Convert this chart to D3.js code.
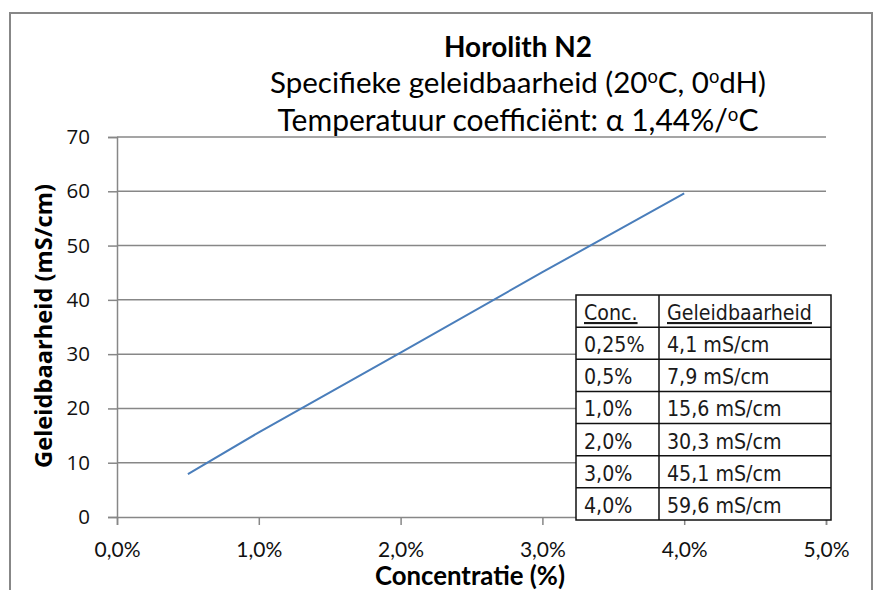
<!DOCTYPE html>
<html>
<head>
<meta charset="utf-8">
<script src="https://cdn.jsdelivr.net/npm/d3@7"></script>
<style>
  html, body { margin: 0; padding: 0; background: #fff; }
  svg { display: block; }
</style>
</head>
<body>
<svg id="chart" width="876" height="590"></svg>
<script>
// ---- data ----
const titleText = "Horolith N2";
const xTicks = [0, 1, 2, 3, 4, 5];            // percent
const yTicks = [0, 10, 20, 30, 40, 50, 60, 70];
const lineConc = [0.5, 1.0, 2.0, 3.0, 4.0];   // % plotted series
const lineVals = [7.9, 15.6, 30.3, 45.1, 59.6]; // mS/cm
const tableHeader = ["Conc.", "Geleidbaarheid"];
const tableConc = ["0,25%", "0,5%", "1,0%", "2,0%", "3,0%", "4,0%"];
const tableVals = ["4,1 mS/cm", "7,9 mS/cm", "15,6 mS/cm", "30,3 mS/cm", "45,1 mS/cm", "59,6 mS/cm"];
const xLabel = "Concentratie (%)";
const yLabel = "Geleidbaarheid (mS/cm)";

// ---- layout ----
const svg = d3.select("#chart");
const plot = { left: 117, right: 826, top: 137, bottom: 517 };
const x = d3.scaleLinear().domain([0, 5]).range([plot.left, plot.right]);
const y = d3.scaleLinear().domain([0, 70]).range([plot.bottom, plot.top]);
const gray = "#878787";

function fit(sel, w) {
  const node = sel.node();
  const fs = parseFloat(sel.attr("font-size"));
  const cur = node.getComputedTextLength();
  const nfs = fs * w / cur;
  sel.attr("font-size", nfs.toFixed(2));
  return nfs;
}

// outer chart border
svg.append("rect")
  .attr("x", 10).attr("y", 13).attr("width", 862).attr("height", 600)
  .attr("fill", "#fff").attr("stroke", gray).attr("stroke-width", 2);

// gridlines
svg.append("g").selectAll("line").data(yTicks.filter(d => d > 0)).join("line")
  .attr("x1", plot.left).attr("x2", plot.right)
  .attr("y1", d => y(d)).attr("y2", d => y(d))
  .attr("stroke", gray).attr("stroke-width", 1.5);

// y axis
const yAxis = svg.append("g").attr("transform", `translate(${plot.left},0)`)
  .call(d3.axisLeft(y).tickValues(yTicks).tickSize(9).tickPadding(18).tickFormat(d3.format("d")));
yAxis.select(".domain").attr("stroke", gray).attr("stroke-width", 1.5);
yAxis.selectAll(".tick line").attr("stroke", gray).attr("stroke-width", 1.5);
yAxis.selectAll(".tick text").attr("font-family", "'Open Sans', sans-serif")
  .attr("font-size", 20.5).attr("fill", "#111");

// x axis
const fmtPct = d => d3.format(".1f")(d).replace(".", ",") + "%";
const xAxis = svg.append("g").attr("transform", `translate(0,${plot.bottom})`)
  .call(d3.axisBottom(x).tickValues(xTicks).tickSize(8).tickPadding(17).tickFormat(fmtPct));
xAxis.select(".domain").attr("stroke", gray).attr("stroke-width", 1.5);
xAxis.selectAll(".tick line").attr("stroke", gray).attr("stroke-width", 1.5);
xAxis.selectAll(".tick text").attr("font-family", "Lato, sans-serif")
  .attr("font-size", 21).attr("fill", "#111");

// series line
const pts = lineConc.map((c, i) => [c, lineVals[i]]);
svg.append("path").datum(pts)
  .attr("fill", "none").attr("stroke", "#4A7EBB").attr("stroke-width", 2)
  .attr("d", d3.line().x(d => x(d[0])).y(d => y(d[1])));

// titles
const cx = 518;
const t1 = svg.append("text").attr("x", cx).attr("y", 57).attr("text-anchor", "middle")
  .attr("font-family", "Lato, sans-serif").attr("font-weight", "bold").attr("font-size", 26)
  .attr("fill", "#000").text(titleText);
fit(t1, 148);

const t2 = svg.append("text").attr("x", cx).attr("y", 93).attr("text-anchor", "middle")
  .attr("font-family", "Lato, sans-serif").attr("font-size", 26).attr("fill", "#000");
t2.append("tspan").text("Specifieke geleidbaarheid (20");
t2.append("tspan").attr("font-size", "0.62em").attr("dy", "-0.55em").text("o");
t2.append("tspan").attr("dy", "0.34em").text("C, 0");
t2.append("tspan").attr("font-size", "0.62em").attr("dy", "-0.55em").text("o");
t2.append("tspan").attr("dy", "0.34em").text("dH)");
fit(t2, 496);

const t3 = svg.append("text").attr("x", cx).attr("y", 131).attr("text-anchor", "middle")
  .attr("font-family", "Lato, sans-serif").attr("font-size", 26).attr("fill", "#000");
t3.append("tspan").text("Temperatuur coefficiënt: \u03B1 1,44%/");
t3.append("tspan").attr("font-size", "0.62em").attr("dy", "-0.55em").text("o");
t3.append("tspan").attr("dy", "0.34em").text("C");
fit(t3, 481);

// axis titles
const xl = svg.append("text").attr("x", 470).attr("y", 585).attr("text-anchor", "middle")
  .attr("font-family", "Lato, sans-serif").attr("font-weight", "bold").attr("font-size", 22)
  .attr("fill", "#000").text(xLabel);
fit(xl, 190);

const yl = svg.append("text").attr("transform", "translate(52,326) rotate(-90)")
  .attr("text-anchor", "middle")
  .attr("font-family", "'Open Sans', sans-serif").attr("font-weight", "bold").attr("font-size", 20)
  .attr("fill", "#000").text(yLabel);
fit(yl, 284);

// data table
const tbl = { left: 576, right: 831, top: 295, bottom: 520, col: 659 };
const nRows = tableConc.length + 1;
const rowH = (tbl.bottom - tbl.top) / nRows;
const tg = svg.append("g");
tg.append("rect").attr("x", tbl.left).attr("y", tbl.top)
  .attr("width", tbl.right - tbl.left).attr("height", tbl.bottom - tbl.top)
  .attr("fill", "#fff").attr("stroke", "#111").attr("stroke-width", 1.5);
tg.selectAll("line.row").data(d3.range(1, nRows)).join("line").attr("class", "row")
  .attr("x1", tbl.left).attr("x2", tbl.right)
  .attr("y1", d => tbl.top + d * rowH).attr("y2", d => tbl.top + d * rowH)
  .attr("stroke", "#111").attr("stroke-width", 1.5);
tg.append("line").attr("x1", tbl.col).attr("x2", tbl.col)
  .attr("y1", tbl.top).attr("y2", tbl.bottom).attr("stroke", "#111").attr("stroke-width", 1.5);

const tableFont = "'DejaVu Sans Condensed', 'DejaVu Sans', sans-serif";
const hdr = tg.selectAll("text.hdr").data(tableHeader).join("text").attr("class", "hdr")
  .attr("x", (d, i) => i === 0 ? tbl.left + 8 : tbl.col + 8)
  .attr("y", tbl.top + 25)
  .attr("font-family", tableFont).attr("font-size", 18).attr("fill", "#1a1a1a")
  .attr("text-decoration", "underline").text(d => d);
// size table text so the header "Geleidbaarheid" spans the same width as in the reference
const tfs = fit(d3.select(hdr.nodes()[1]), 145);
hdr.attr("font-size", tfs.toFixed(2));
const rows = tableConc.map((c, i) => [c, tableVals[i]]);
rows.forEach((r, i) => {
  const yy = tbl.top + (i + 1) * rowH + 25;
  tg.append("text").attr("x", tbl.left + 8).attr("y", yy)
    .attr("font-family", tableFont).attr("font-size", tfs.toFixed(2)).attr("fill", "#1a1a1a").text(r[0]);
  tg.append("text").attr("x", tbl.col + 8).attr("y", yy)
    .attr("font-family", tableFont).attr("font-size", tfs.toFixed(2)).attr("fill", "#1a1a1a").text(r[1]);
});
</script>
</body>
</html>
